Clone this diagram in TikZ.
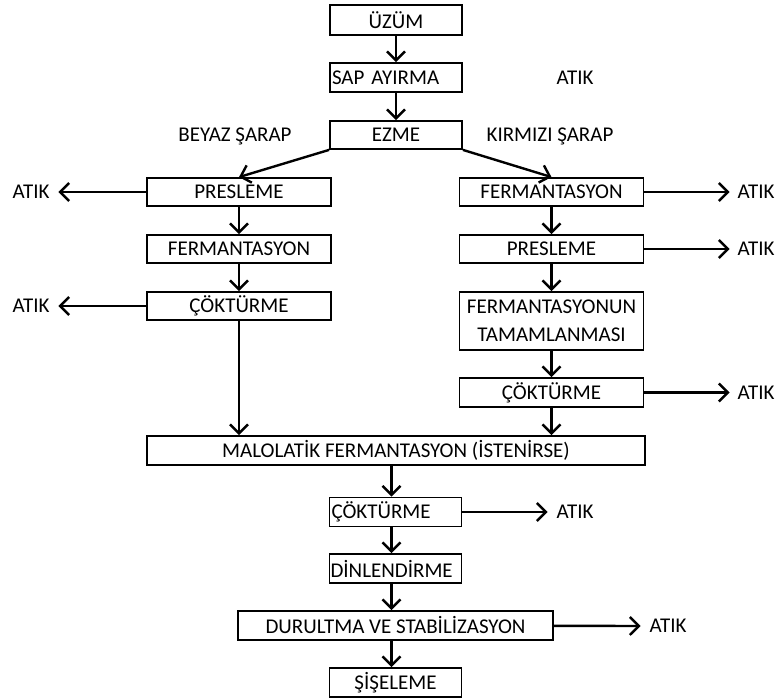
\documentclass[tikz,border=0pt]{standalone}
\usepackage{fontspec}
\setmainfont{Carlito}
\usetikzlibrary{arrows.meta}
\begin{document}
\begin{tikzpicture}[x=1pt, y=-1pt, line width=2pt, >={Straight Barb[length=9pt,width=18pt]},
box node/.style={draw, line width=1.8pt, inner sep=0pt, minimum height=29pt, font=\fontsize{21}{24}\selectfont},
wide node/.style={box node, minimum width=184pt},
small node/.style={box node, text width=128pt, inner xsep=2pt, align=left},
text node/.style={inner sep=0pt, font=\fontsize{21}{24}\selectfont}]%rough pixel grid
\useasboundingbox (0,0) rectangle (782,700);
\begin{scope}
\node[box node, minimum width=132pt, minimum height=30pt] (uzum) at (396,20) {ÜZÜM};
\node[small node] (sap) at (396,77.5) {SAP AYIRMA};
\node[box node, minimum width=132pt, minimum height=28pt] (ezme) at (396,135) {EZME};
\node[text node] (atik0) at (575,78) {ATIK};
\node[text node] (beyaz) at (235,136) {BEYAZ ŞARAP};
\node[text node] (kirmizi) at (550,136) {KIRMIZI ŞARAP};
% beyaz
\node[wide node, minimum height=28pt] (lpres) at (239,192) {PRESLEME};
\node[wide node, minimum height=28pt] (lferm) at (239,249) {FERMANTASYON};
\node[wide node, minimum height=28pt] (lcok) at (239,306) {ÇÖKTÜRME};
\node[text node] (atik1) at (31,192) {ATIK};
\node[text node] (atik2) at (31,306) {ATIK};
% kirmizi
\node[wide node, minimum height=28pt] (rferm) at (551.5,192) {FERMANTASYON};
\node[wide node, minimum height=28pt] (rpres) at (551.5,249) {PRESLEME};
\node[wide node, minimum height=58pt, align=center, font=\fontsize{21}{28}\selectfont] (rtam) at (551.5,321) {FERMANTASYONUN\\TAMAMLANMASI};
\node[wide node] (rcok) at (551.5,392.5) {ÇÖKTÜRME};
\node[text node] (atik3) at (756,192) {ATIK};
\node[text node] (atik4) at (756,249) {ATIK};
\node[text node] (atik5) at (756,392.5) {ATIK};
% ortak
\node[box node, minimum width=498pt] (malo) at (396,450.5) {MALOLATİK FERMANTASYON (İSTENİRSE)};
\node[small node] (cok) at (395.5,512) {ÇÖKTÜRME};
\node[small node, inner xsep=1pt, text width=130pt] (dinl) at (395.5,568.5) {DİNLENDİRME};
\node[box node, minimum width=315pt] (durul) at (395.5,625.5) {DURULTMA VE STABİLİZASYON};
\node[box node, minimum width=132pt] (sise) at (395.5,682.5) {ŞİŞELEME};
\node[text node] (atik6) at (575,512) {ATIK};
\node[text node] (atik7) at (668,626) {ATIK};
\end{scope}
\begin{scope}[line width=2.4pt]
\draw[->] (uzum) -- (sap);
\draw[->] (sap) -- (ezme);
\draw[->] (ezme.south west) -- (lpres.north);
\draw[->] (ezme.south east) -- (rferm.north);
\draw[->] (lpres) -- (lferm);
\draw[->] (lferm) -- (lcok);
\draw[->] (lpres) -- ([xshift=8pt]atik1.east);
\draw[->] (lcok) -- ([xshift=8pt]atik2.east);
\draw[->] (lcok) -- (lcok |- malo.north);
\draw[->] (rferm) -- (rpres);
\draw[->] (rpres) -- (rtam);
\draw[->] (rtam) -- (rcok);
\draw[->] (rferm) -- ([xshift=-7pt]atik3.west);
\draw[->] (rpres) -- ([xshift=-7pt]atik4.west);
\draw[->] (rcok) -- ([xshift=-7pt]atik5.west);
\draw[->] (rcok) -- (rcok |- malo.north);
\draw[->] ([xshift=-4pt]malo.south -| cok) -- ([xshift=-4pt]cok.north);
\draw[->] ([xshift=-4pt]cok.south) -- ([xshift=-4pt]dinl.north);
\draw[->] ([xshift=-4pt]dinl.south) -- ([xshift=-4pt]durul.north);
\draw[->] ([xshift=-4pt]durul.south) -- ([xshift=-4pt]sise.north);
\draw[->] (cok) -- ([xshift=-8pt]atik6.west);
\draw[->] (durul) -- ([xshift=-8pt]atik7.west);
\end{scope}
\end{tikzpicture}
\end{document}
